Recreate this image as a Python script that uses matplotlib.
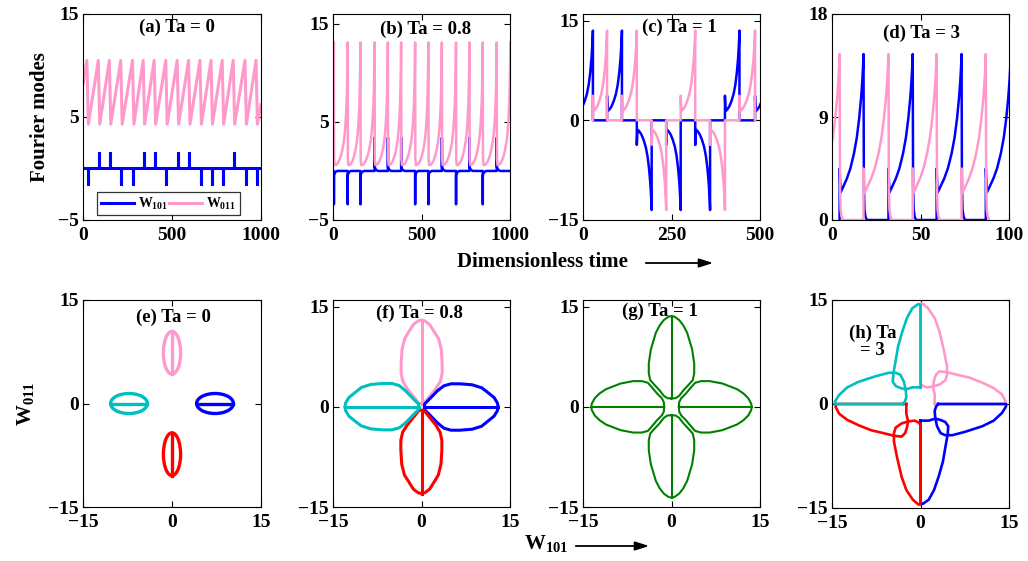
import numpy as np
import matplotlib
matplotlib.use("Agg")
import matplotlib.pyplot as plt
from matplotlib.patches import Ellipse, FancyArrowPatch

plt.rcParams["font.family"] = ["Liberation Serif", "DejaVu Serif"]
plt.rcParams["font.weight"] = "bold"
plt.rcParams["mathtext.fontset"] = "custom"
plt.rcParams["mathtext.rm"] = "Liberation Serif:bold"
plt.rcParams["mathtext.bf"] = "Liberation Serif:bold"
plt.rcParams["mathtext.it"] = "Liberation Serif:bold"

BLUE, PINK, CYAN, RED, GREEN = "#0000ff", "#ff99cc", "#00bfbf", "#ff0000", "#008000"

# ---------------- time series data ----------------
# (a) Ta = 0 : W011 sawtooth, W101 spikes at each W011 drop
a_peak_t = [22, 86, 148, 212, 278, 338, 400, 465, 529, 593, 657, 719, 782, 844, 910, 972]
a_spike_sign = [-1, 1, 1, -1, -1, 1, 1, -1, 1, 1, -1, -1, -1, 1, -1, -1]
a_w011_low, a_w011_high = 4.3, 10.5
a_w011_start, a_w011_end = 8.2, 6.2
a_w101_spike = 1.5
a_drop = 8.0

# (b) Ta = 0.8 : W011 bursting cycles, W101 spikes at each W011 drop
b_peak_t = [-71, 5, 83, 155, 235, 310, 385, 464, 539, 615, 695, 771, 846, 925, 1002]
b_spike_sign = [-1, -1, -1, 1, 1, 1, -1, -1, 1, -1, 1, -1, 1]
b_cycle_frac = [0.0, 0.015, 0.06, 0.2, 0.35, 0.5, 0.62, 0.72, 0.8, 0.86, 0.91, 0.95, 0.98, 1.0]
b_cycle_w011 = [13.1, 1.2, 0.6, 0.65, 0.95, 1.5, 2.2, 3.0, 4.0, 5.2, 6.6, 8.4, 10.6, 13.1]
b_spike_frac = [0.0, 0.003, 0.006, 0.05, 0.12, 0.25]
b_spike_w101 = [0.0, 3.4, 0.45, 0.25, 0.1, 0.0]

# (c) Ta = 1 : modes take turns growing; bursts alternate W101, W011, W101, ...
c_edges = [-14, 28, 68, 110, 152, 194, 235, 276, 317, 359, 401, 442, 486, 528]
c_w101_sign = [1, 1, -1, -1, -1, 1, 1]
c_w011_sign = [1, 1, -1, 1, -1, 1]
c_burst_frac = [0.0, 0.0, 0.04, 0.15, 0.3, 0.45, 0.6, 0.72, 0.82, 0.9, 0.95, 0.98, 1.0, 1.0]
c_burst_amp = [0.0, 3.7, 1.4, 1.6, 2.1, 2.9, 4.0, 5.4, 7.2, 9.2, 11.0, 12.4, 13.5, 0.0]

# (d) Ta = 3 : bursts alternate W011, W101, W011, ...
d_edges = [-9.5, 4.3, 17.8, 31.9, 45.6, 59.1, 73.2, 86.9, 101.0]
d_burst_frac = [0.0, 0.0, 0.04, 0.15, 0.3, 0.45, 0.6, 0.72, 0.82, 0.9, 0.95, 0.98, 1.0,
                1.015, 1.04, 1.08, 1.14]
d_burst_amp = [0.0, 4.5, 2.4, 2.9, 3.6, 4.5, 5.8, 7.2, 8.9, 10.7, 12.2, 13.4, 14.5,
               3.0, 0.9, 0.3, 0.0]

# ---------------- phase portrait data ----------------
# (e) closed orbits around the four fixed points
e_center_w101 = [0.0, 7.25, 0.0, -7.25]
e_center_w011 = [7.35, 0.0, -7.35, 0.0]
e_half_long, e_half_short = 3.1, 1.45

# (f) upper petal (W011 > 0); the other three follow by 90 degree rotation
f_petal_w101 = [0.4, 1.3, 2.4, 3.2, 3.5, 3.5, 3.35, 2.9, 2.25, 1.4, 0.6, 0.0,
                -0.6, -1.4, -2.25, -2.85, -3.3, -3.45, -3.45, -3.15, -2.4, -1.3, -0.4, 0.4]
f_petal_w011 = [0.5, 1.5, 2.7, 3.8, 5.0, 6.5, 8.6, 10.2, 11.1, 12.3, 12.85, 13.0,
                12.85, 12.3, 11.1, 10.2, 8.6, 6.5, 5.0, 3.8, 2.7, 1.5, 0.5, 0.5]
f_axis_w011 = [0.5, 13.0]

# (g) upper petal of the four-lobed orbit
g_petal_w101 = [0.0, 0.7, 1.3, 2.0, 2.9, 3.6, 3.85, 3.85, 3.5, 2.65, 2.0, 1.3, 0.5, 0.0,
                -0.5, -1.3, -2.0, -2.65, -3.5, -3.85, -3.85, -3.6, -2.9, -2.0, -1.3, -0.7, 0.0]
g_petal_w011 = [1.25, 1.3, 1.65, 2.45, 3.3, 4.0, 5.0, 6.5, 8.6, 11.1, 12.2, 13.0, 13.5, 13.6,
                13.5, 13.0, 12.2, 11.1, 8.6, 6.5, 5.0, 4.0, 3.3, 2.45, 1.65, 1.3, 1.25]
g_axis_w011 = [1.3, 13.6]

# (h) upper-left orbit: left half of the upper lobe and upper half of the left lobe
h_top_w101 = [0.0, 0.0, -0.4, -1.4, -2.3, -3.1, -3.8, -4.2, -4.6, -4.7, -4.2, -3.4, -2.5, -1.4, -0.5, 0.0]
h_top_w011 = [2.4, 14.3, 14.4, 13.8, 12.4, 10.4, 8.3, 6.3, 4.4, 3.2, 2.6, 2.3, 2.1, 2.4, 2.4, 2.4]
h_side_w101 = [-3.0, -14.5, -14.5, -13.8, -12.4, -10.5, -7.6, -5.4, -4.2, -3.4, -2.8, -2.5, -2.4, -2.65, -3.0]
h_side_w011 = [0.0, 0.0, 0.35, 1.3, 2.4, 3.2, 4.0, 4.5, 4.5, 4.2, 3.2, 2.0, 1.0, 0.35, 0.0]

# axis settings
top_xlim = [(0, 1000), (0, 1000), (0, 500), (0, 100)]
top_xticks = [[0, 500, 1000], [0, 500, 1000], [0, 250, 500], [0, 50, 100]]
top_ylim = [(-5, 15), (-5, 16), (-15, 16), (0, 18)]
top_yticks = [[-5, 5, 15], [-5, 5, 15], [-15, 0, 15], [0, 9, 18]]
bot_ylim = [(-15, 15), (-15, 16), (-15, 16), (-15, 15)]
phase_ticks = [-15, 0, 15]
titles = ["(a) Ta = 0", "(b) Ta = 0.8", "(c) Ta = 1", "(d) Ta = 3",
          "(e) Ta = 0", "(f) Ta = 0.8", "(g) Ta = 1", "(h) Ta\n= 3"]


def bursts_to_line(bursts, frac, amp):
    t, v = [], []
    for s, e, sg in bursts:
        L = e - s
        t += [s + f * L for f in frac]
        v += [sg * a for a in amp]
    return np.array(t), np.array(v)


def rot_cw(x, y):
    return np.asarray(y, float), -np.asarray(x, float)


W, H = 1028, 561
fig = plt.figure(figsize=(W / 100, H / 100), dpi=100)


def px_axes(l, r, t, b):
    return fig.add_axes([l / W, 1 - b / H, (r - l) / W, (b - t) / H])


lefts = [83, 333, 583, 832]
rights = [261, 510, 760, 1009]
top_axes = [px_axes(lefts[i], rights[i], 14, 220) for i in range(4)]
bot_axes = [px_axes(lefts[i], rights[i], 300, 507 if i < 3 else 508) for i in range(4)]

# ---- (a)
ax = top_axes[0]
ta, va = [0.0], [a_w011_start]
tb, vb = [0.0], [0.0]
for p, s in zip(a_peak_t, a_spike_sign):
    ta += [p, p + a_drop]
    va += [a_w011_high, a_w011_low]
    mid = p + a_drop / 2
    tb += [mid, mid, mid]
    vb += [0.0, s * a_w101_spike, 0.0]
ta.append(1000); va.append(a_w011_end)
tb.append(1000); vb.append(0.0)
lb, = ax.plot(tb, vb, color=BLUE, lw=2.2, label=r"$\mathbf{W_{101}}$")
lp, = ax.plot(ta, va, color=PINK, lw=2.2, label=r"$\mathbf{W_{011}}$")
leg = ax.legend(handles=[lb, lp], loc="lower left", bbox_to_anchor=(0.079, 0.024, 0.803, 0.131),
                mode="expand", ncol=2, fontsize=10, frameon=True, fancybox=False,
                edgecolor="black", handlelength=2.4, borderaxespad=0, borderpad=0.25,
                handletextpad=0.3, columnspacing=0.6)
leg.get_frame().set_linewidth(0.9)

# ---- (b)
ax = top_axes[1]
tp, vp = [], []
for k in range(len(b_peak_t) - 1):
    s, e = b_peak_t[k], b_peak_t[k + 1]
    tp += [s + f * (e - s) for f in b_cycle_frac]
    vp += b_cycle_w011
tb, vb = [0.0], [0.0]
for k, sg in enumerate(b_spike_sign):
    p = b_peak_t[k + 1]
    per = b_peak_t[k + 2] - p
    tb += [p + f * per for f in b_spike_frac]
    vb += [sg * a for a in b_spike_w101]
tb.append(1000); vb.append(0.0)
ax.plot(tb, vb, color=BLUE, lw=1.8)
ax.plot(tp, vp, color=PINK, lw=1.8)

# ---- (c)
ax = top_axes[2]
blue_b = [(c_edges[2 * i], c_edges[2 * i + 1], c_w101_sign[i]) for i in range(len(c_w101_sign))]
pink_b = [(c_edges[2 * i + 1], c_edges[2 * i + 2], c_w011_sign[i]) for i in range(len(c_w011_sign))]
t1, v1 = bursts_to_line(blue_b, c_burst_frac, c_burst_amp)
t2, v2 = bursts_to_line(pink_b, c_burst_frac, c_burst_amp)
ax.plot(t1, v1, color=BLUE, lw=1.8)
ax.plot(t2, v2, color=PINK, lw=1.8)

# ---- (d)
ax = top_axes[3]
n = len(d_edges) - 1
pink_b = [(d_edges[i], d_edges[i + 1], 1) for i in range(0, n, 2)]
blue_b = [(d_edges[i], d_edges[i + 1], 1) for i in range(1, n, 2)]
t1, v1 = bursts_to_line(blue_b, d_burst_frac, d_burst_amp)
t2, v2 = bursts_to_line(pink_b, d_burst_frac, d_burst_amp)
ax.plot(t1, v1, color=BLUE, lw=1.8)
ax.plot(t2, v2, color=PINK, lw=1.8)

for i, ax in enumerate(top_axes):
    ax.set_xlim(*top_xlim[i]); ax.set_xticks(top_xticks[i])
    ax.set_ylim(*top_ylim[i]); ax.set_yticks(top_yticks[i])

# ---- (e)
ax = bot_axes[0]
e_colors = [PINK, BLUE, RED, CYAN]
for cx, cy, c in zip(e_center_w101, e_center_w011, e_colors):
    vertical = cx == 0.0
    w, h = (2 * e_half_short, 2 * e_half_long) if vertical else (2 * e_half_long, 2 * e_half_short)
    ax.add_patch(Ellipse((cx, cy), w, h, fill=False, edgecolor=c, lw=2.4))
    if vertical:
        ax.plot([cx, cx], [cy - e_half_long, cy + e_half_long], color=c, lw=2.4)
    else:
        ax.plot([cx - e_half_long, cx + e_half_long], [cy, cy], color=c, lw=2.4)

# ---- (f)
ax = bot_axes[1]
px, py = np.array(f_petal_w101, float), np.array(f_petal_w011, float)
lx, ly = np.array([0.0, 0.0]), np.array(f_axis_w011, float)
for c in [PINK, BLUE, RED, CYAN]:
    ax.plot(px, py, color=c, lw=2.2)
    ax.plot(lx, ly, color=c, lw=2.2)
    px, py = rot_cw(px, py)
    lx, ly = rot_cw(lx, ly)

# ---- (g)
ax = bot_axes[2]
px, py = np.array(g_petal_w101, float), np.array(g_petal_w011, float)
lx, ly = np.array([0.0, 0.0]), np.array(g_axis_w011, float)
for _ in range(4):
    ax.plot(px, py, color=GREEN, lw=1.5)
    ax.plot(lx, ly, color=GREEN, lw=1.5)
    px, py = rot_cw(px, py)
    lx, ly = rot_cw(lx, ly)

# ---- (h)
ax = bot_axes[3]
ax_, ay_ = np.array(h_top_w101, float), np.array(h_top_w011, float)
bx_, by_ = np.array(h_side_w101, float), np.array(h_side_w011, float)
# rotate the upper-left orbit clockwise to get pink, blue, red in turn
ax_, ay_ = rot_cw(ax_, ay_); bx_, by_ = rot_cw(bx_, by_)
for c in [PINK, BLUE, RED, CYAN]:
    ax.plot(ax_, ay_, color=c, lw=1.9)
    ax.plot(bx_, by_, color=c, lw=1.9)
    ax_, ay_ = rot_cw(ax_, ay_); bx_, by_ = rot_cw(bx_, by_)

for i, ax in enumerate(bot_axes):
    ax.set_xlim(-15, 15); ax.set_xticks(phase_ticks)
    ax.set_ylim(*bot_ylim[i]); ax.set_yticks(phase_ticks)

for ax in top_axes + bot_axes:
    ax.tick_params(direction="in", top=True, right=True, length=4, width=0.8,
                   labelsize=14, pad=3)
    ax.tick_params(axis="x", pad=5)
    for sp in ax.spines.values():
        sp.set_linewidth(0.8)
    for lab in ax.get_xticklabels() + ax.get_yticklabels():
        lab.set_fontweight("bold")

# panel titles (positions in axes fractions)
title_pos = [(0.528, 0.937), (0.525, 0.927), (0.542, 0.937), (0.503, 0.908),
             (0.506, 0.918), (0.49, 0.937), (0.435, 0.947), (0.23, 0.80)]
for ax, t, (x, y) in zip(top_axes + bot_axes, titles, title_pos):
    ax.text(x, y, t, transform=ax.transAxes, ha="center", va="center",
            fontsize=13.5, fontweight="bold", linespacing=1.0, multialignment="center")

# axis labels
fig.text(40 / W, 1 - 117 / H, "Fourier modes", rotation=90, ha="center", va="center",
         fontsize=15, fontweight="bold")
fig.text(542 / W, 1 - 262 / H, "Dimensionless time", ha="center", va="center",
         fontsize=15, fontweight="bold")
fig.text(25 / W, 1 - 404 / H, r"$\mathbf{W_{011}}$", rotation=90, ha="center", va="center",
         fontsize=15)
fig.text(524 / W, 1 - 549 / H, r"$\mathbf{W_{101}}$", ha="left", va="baseline", fontsize=15)

for (x0, x1, y) in [(643, 716, 263), (573, 652, 546)]:
    fig.add_artist(FancyArrowPatch((x0 / W, 1 - y / H), (x1 / W, 1 - y / H),
                                   transform=fig.transFigure,
                                   arrowstyle="-|>,head_length=0.7,head_width=0.22",
                                   mutation_scale=12, lw=1.3, color="black"))

fig.savefig("out.png", dpi=100, facecolor="white")
